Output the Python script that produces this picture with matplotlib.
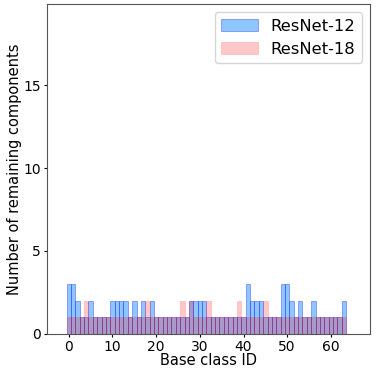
import numpy as np
import matplotlib.pyplot as plt

class_ids = np.arange(64)

# remaining components per base class
resnet12 = [3, 3, 2, 1, 1, 2, 1, 1, 1, 1,
            2, 2, 2, 2, 1, 2, 1, 2, 1, 2,
            1, 1, 1, 1, 1, 1, 1, 1, 2, 2,
            2, 2, 1, 1, 1, 1, 1, 1, 1, 1,
            1, 3, 2, 2, 2, 1, 1, 1, 1, 3,
            3, 2, 1, 2, 1, 1, 2, 1, 1, 1,
            1, 1, 1, 2]
resnet18 = [1, 1, 1, 1, 2, 1, 1, 1, 1, 1,
            1, 1, 1, 1, 1, 1, 1, 1, 2, 1,
            1, 1, 1, 1, 1, 1, 2, 1, 2, 1,
            1, 1, 2, 1, 1, 1, 1, 1, 1, 2,
            1, 1, 1, 1, 1, 2, 1, 1, 1, 1,
            1, 1, 1, 1, 1, 1, 1, 1, 1, 1,
            1, 1, 1, 1]

fig = plt.figure(figsize=(3.82, 3.82), dpi=100)
ax = fig.add_axes([0.123, 0.126, 0.846, 0.864])

ax.bar(class_ids, resnet12, width=1, color='dodgerblue', alpha=0.5,
       edgecolor='blue', linewidth=0.45, label='ResNet-12')
ax.bar(class_ids, resnet18, width=1, color='red', alpha=0.22,
       edgecolor='red', linewidth=0.45, label='ResNet-18')

ax.set_xlim(-5, 69)
ax.set_ylim(0, 19.9)
ax.set_yticks([0, 5, 10, 15])
ax.set_xticks([0, 10, 20, 30, 40, 50, 60])
ax.tick_params(labelsize=10, length=2.5, pad=2)
ax.set_xlabel('Base class ID', fontsize=10.5, labelpad=-1)
ax.set_ylabel('Number of remaining components', fontsize=10.5, labelpad=1)
ax.legend(fontsize=11.8, loc='upper right', handlelength=2.2)

for s in ax.spines.values():
    s.set_color('#555555')

plt.savefig('out.png', dpi=100)
plt.close()
